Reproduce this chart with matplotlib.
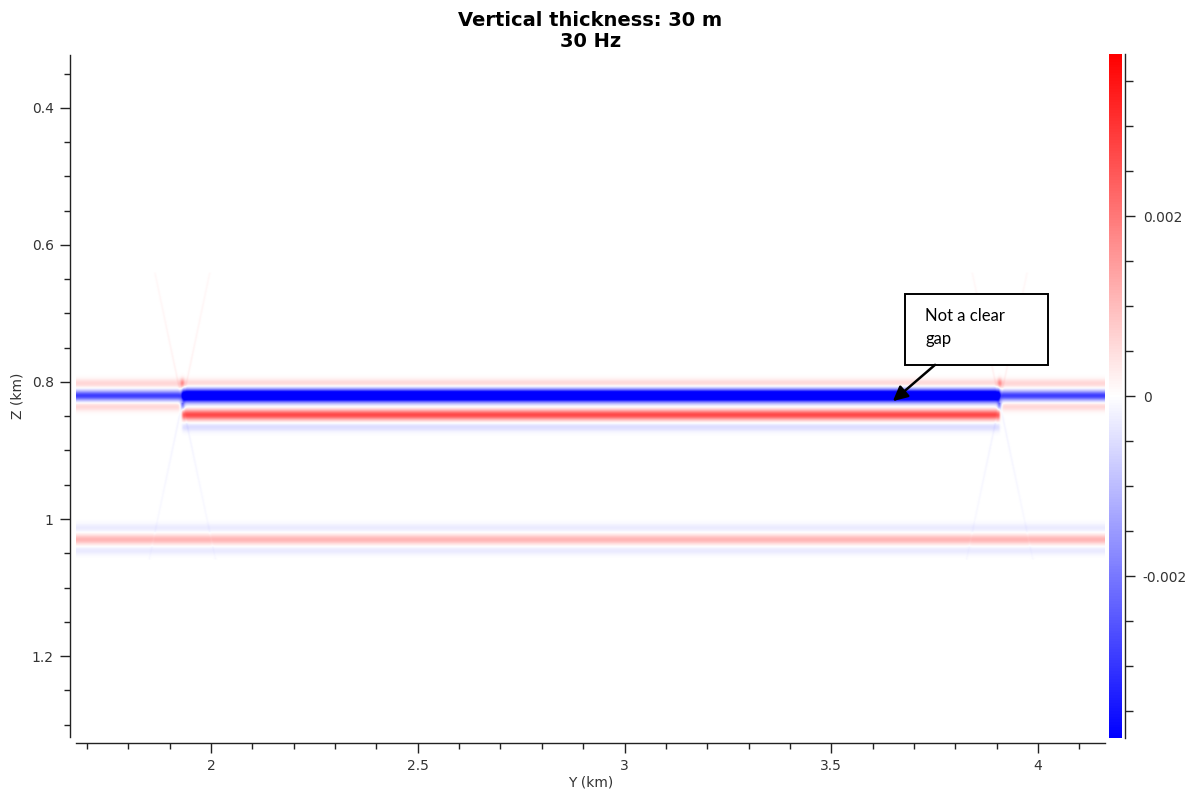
import numpy as np
import matplotlib
matplotlib.use("Agg")
import matplotlib.pyplot as plt
from matplotlib.ticker import MultipleLocator, FixedLocator, FuncFormatter
from matplotlib.patches import Rectangle

plt.rcParams["axes.unicode_minus"] = False
plt.rcParams["font.family"] = ["DejaVu Sans"]

# Section extent (km)
y_range = [1.6735, 4.162]
z_range = [0.323, 1.318]

# Lateral limits of the thin layer (km)
block_edges = [1.930, 3.908]

# Horizon stripes: depth (km), peak amplitude, vertical half-width (km), lateral zone
band_depth = [0.802, 0.820, 0.836,
              0.802, 0.820, 0.848, 0.866,
              1.013, 1.030, 1.046]
band_amp = [0.0006, -0.0029, 0.0006,
            0.0006, -0.0060, 0.0027, -0.0005,
            -0.0003, 0.0011, -0.0003]
band_width = [0.0045, 0.0050, 0.0045,
              0.0045, 0.0062, 0.0052, 0.0045,
              0.0045, 0.0050, 0.0045]
band_zone = ["out", "out", "out",
             "in", "in", "in", "in",
             "all", "all", "all"]

# Edge effects: small blobs at the layer terminations
blob_depth = [0.802, 0.834]
blob_amp = [0.0012, -0.0016]

# Faint diffraction tails radiating from the terminations
diff_slopes = [-0.35, 0.35]
diff_amp_above = 0.00022
diff_amp_below = -0.00018
diff_depth_limits = [0.64, 1.06]
diff_origin_depth = 0.83

colour_limit = 0.0038

# ---- build the amplitude section ----
ny, nz = 1400, 1000
yy = np.linspace(y_range[0], y_range[1], ny)
zz = np.linspace(z_range[0], z_range[1], nz)
Y, Z = np.meshgrid(yy, zz)

taper = 0.003
inside = (0.5 * (1 + np.tanh((Y - block_edges[0]) / taper))
          * 0.5 * (1 + np.tanh((block_edges[1] - Y) / taper)))
zone_mask = {"in": inside, "out": 1.0 - inside, "all": np.ones_like(Y)}

section = np.zeros_like(Y)
for d, a, w, zone in zip(band_depth, band_amp, band_width, band_zone):
    section += a * np.exp(-0.5 * ((Z - d) / w) ** 2) * zone_mask[zone]

for e in block_edges:
    for d, a in zip(blob_depth, blob_amp):
        section += a * np.exp(-0.5 * (((Y - e) / 0.004) ** 2 + ((Z - d) / 0.005) ** 2))
    for k in diff_slopes:
        yline = e + k * (Z - diff_origin_depth)
        amp = np.where(Z < diff_origin_depth, diff_amp_above, diff_amp_below)
        within = (Z > diff_depth_limits[0]) & (Z < diff_depth_limits[1])
        fade = np.exp(-np.abs(Z - diff_origin_depth) / 0.25)
        section += amp * fade * within * np.exp(-0.5 * ((Y - yline) / 0.0018) ** 2)

# Odd number of levels so that zero amplitude maps to pure white
cmap = matplotlib.colormaps["bwr"].resampled(255)

# ---- figure ----
W, H = 1192, 797
fig = plt.figure(figsize=(W / 100, H / 100), dpi=100)
ax = fig.add_axes([76 / W, 1 - 737 / H, (1105 - 76) / W, (737 - 55) / H])
cax = fig.add_axes([1109 / W, 1 - 738 / H, 13 / W, (738 - 54) / H])

im = ax.imshow(section, cmap=cmap, vmin=-colour_limit, vmax=colour_limit,
               extent=[y_range[0], y_range[1], z_range[1], z_range[0]],
               aspect="auto", interpolation="bilinear")

ax.set_xlim(y_range)
ax.set_ylim(z_range[1], z_range[0])

for s in ["top", "right"]:
    ax.spines[s].set_visible(False)
ax.spines["left"].set_position(("outward", 4))
ax.spines["bottom"].set_position(("outward", 4))
for s in ["left", "bottom"]:
    ax.spines[s].set_linewidth(1.0)
    ax.spines[s].set_color("#222222")

fmt = FuncFormatter(lambda v, p: "%g" % round(v, 6))
ax.xaxis.set_major_locator(MultipleLocator(0.5))
ax.xaxis.set_minor_locator(MultipleLocator(0.1))
ax.yaxis.set_major_locator(MultipleLocator(0.2))
ax.yaxis.set_minor_locator(MultipleLocator(0.05))
ax.xaxis.set_major_formatter(fmt)
ax.yaxis.set_major_formatter(fmt)
ax.tick_params(which="major", length=7, width=1.0, color="#222222",
               labelsize=10, labelcolor="#333333", pad=5)
ax.tick_params(which="minor", length=4, width=1.0, color="#222222")

ax.set_xlabel("Y (km)", fontsize=10, color="#333333", labelpad=2)
ax.set_ylabel("Z (km)", fontsize=10, color="#333333", labelpad=5)

ax.set_title("Vertical thickness: 30 m\n30 Hz", fontsize=14, fontweight="bold",
             linespacing=1.08, pad=6)

cbar = fig.colorbar(im, cax=cax)
cbar.outline.set_visible(False)
cax.spines["right"].set_visible(True)
cax.spines["right"].set_position(("outward", 2))
cax.spines["right"].set_linewidth(1.0)
cax.spines["right"].set_color("#222222")
cbar.set_ticks([-0.002, 0.0, 0.002])
cax.yaxis.set_major_formatter(FuncFormatter(lambda v, p: "%g" % round(v, 6)))
cax.yaxis.set_minor_locator(FixedLocator(np.arange(-0.0035, 0.00351, 0.0005)))
cax.tick_params(which="major", length=7, width=1.0, color="#222222",
                labelsize=10, labelcolor="#333333", pad=6)
cax.tick_params(which="minor", length=6, width=1.0, color="#222222")

# Callout box with arrow
box_y0, box_y1 = 3.678, 4.024
box_z0, box_z1 = 0.6715, 0.775
ax.add_patch(Rectangle((box_y0, box_z0), box_y1 - box_y0, box_z1 - box_z0,
                       facecolor="white", edgecolor="black", linewidth=1.4,
                       zorder=5))
ax.text(3.727, 0.6915, "Not a clear\ngap", fontsize=12, family=["Lato", "DejaVu Sans"],
        ha="left", va="top", linespacing=1.55, color="black", zorder=6)
ax.annotate("", xy=(3.649, 0.828), xytext=(3.751, 0.775),
            arrowprops=dict(arrowstyle="-|>", color="black", lw=1.8,
                            mutation_scale=22, shrinkA=0, shrinkB=0),
            zorder=6)

fig.savefig("out.png", dpi=100)
